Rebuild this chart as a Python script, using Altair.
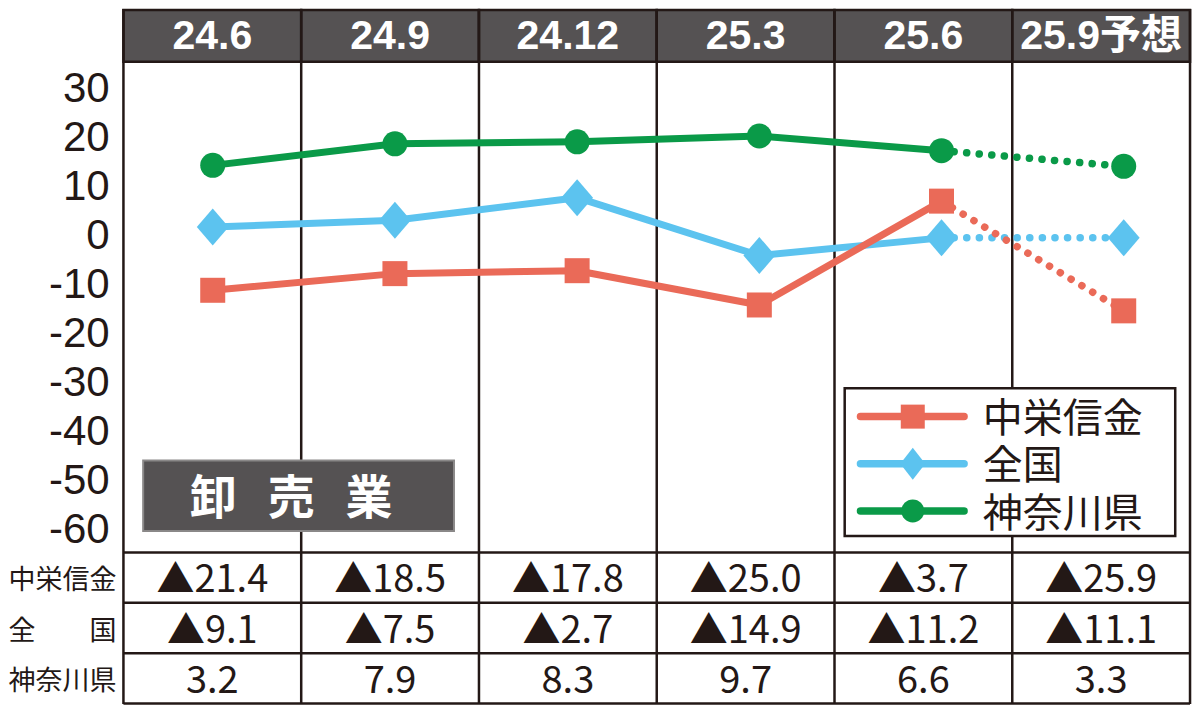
import altair as alt
import pandas as pd

# ---------------- data ----------------
periods = ["24.6", "24.9", "24.12", "25.3", "25.6", "25.9予想"]
series_names = ["中栄信金", "全国", "神奈川県"]
row_labels = ["中栄信金", "全　　国", "神奈川県"]
series_colors = ["#EA6A58", "#5CC3EF", "#0A9A48"]

# plotted positions
plot_shinkin = [-11.5, -8.1, -7.5, -14.5, 6.7, -15.7]
plot_zenkoku = [1.4, 2.8, 7.4, -4.4, -0.8, -0.8]
plot_kanagawa = [14.0, 18.4, 18.8, 20.0, 17.0, 13.8]

# values printed in the table
tbl_shinkin = [-21.4, -18.5, -17.8, -25.0, -3.7, -25.9]
tbl_zenkoku = [-9.1, -7.5, -2.7, -14.9, -11.2, -11.1]
tbl_kanagawa = [3.2, 7.9, 8.3, 9.7, 6.6, 3.3]

y_ticks = [30, 20, 10, 0, -10, -20, -30, -40, -50, -60]
panel_chars = ["卸", "売", "業"]

# ---------------- layout ----------------
W, H = 1184, 697
KX, KY = W / 1200.0, H / 713.0


def px(x):
    return round(x * KX, 2)


def py(y):
    return round(y * KY, 2)


FONT = "Noto Sans CJK JP"
FONT_MIX = "'Liberation Sans', 'Noto Sans CJK JP'"
HEADER_FILL = "#555253"
INK = "#231816"
LW = 2.5

y_scale = alt.Scale(domain=[-60, 30], range=[py(531.8), py(80.8)])
x_pts = alt.Scale(domain=[0, 5], range=[px(207.5), px(1130.8)])
x_tab = alt.Scale(domain=[0, 6], range=[px(117), px(1198)])
y_tab = alt.Scale(domain=[0, 3], range=[py(557), py(711.5)])
y_leg = alt.Scale(domain=[0, 2], range=[py(418), py(514.5)])
x_panel = alt.Scale(domain=[0, 2], range=[px(208), px(366)])

shapes = ["square", "M-0.86,0L0,-1L0.86,0L0,1Z", "circle"]
sizes = [625, 1369, 625]
leg_shapes = ["square", "M-0.78,0L0,-1L0.78,0L0,1Z", "circle"]
leg_sizes = [576, 1024, 529]


def fmt(v):
    return ("▲" + f"{abs(v):.1f}") if v < 0 else f"{v:.1f}"


layers = []

# header cells
cols_df = pd.DataFrame({
    "col": list(range(6)),
    "col_end": list(range(1, 7)),
    "mid": [i + 0.5 for i in range(6)],
    "period": periods,
})
layers.append(
    alt.Chart(cols_df).mark_rect(fill=HEADER_FILL, stroke=INK, strokeWidth=LW).encode(
        x=alt.X("col:Q", scale=x_tab, axis=None),
        x2=alt.X2("col_end"),
        y=alt.value(py(2)),
        y2=alt.value(py(55)),
    )
)
layers.append(
    alt.Chart(cols_df).mark_text(font=FONT_MIX, fontSize=41, fontWeight="bold", color="white",
                                 align="center", baseline="alphabetic").encode(
        x=alt.X("mid:Q", scale=x_tab, axis=None),
        y=alt.value(py(42)),
        text="period:N",
    )
)

# vertical grid lines
edges_df = pd.DataFrame({"edge": list(range(7))})
layers.append(
    alt.Chart(edges_df).mark_rule(color=INK, strokeWidth=LW).encode(
        x=alt.X("edge:Q", scale=x_tab, axis=None),
        y=alt.value(py(1)),
        y2=alt.value(py(712)),
    )
)

# horizontal table lines
rows_df = pd.DataFrame({"edge": list(range(len(series_names) + 1))})
layers.append(
    alt.Chart(rows_df).mark_rule(color=INK, strokeWidth=LW).encode(
        y=alt.Y("edge:Q", scale=y_tab, axis=None),
        x=alt.value(px(117)),
        x2=alt.value(px(1198)),
    )
)

# y tick labels
ticks_df = pd.DataFrame({"tick": y_ticks, "label": [str(t) for t in y_ticks]})
layers.append(
    alt.Chart(ticks_df).mark_text(font="Liberation Sans", fontSize=42, align="right",
                                  baseline="alphabetic", dy=py(15.5), color=INK).encode(
        y=alt.Y("tick:Q", scale=y_scale, axis=None),
        x=alt.value(px(103)),
        text="label:N",
    )
)

# table values
tab_records = []
for r, vals in enumerate([tbl_shinkin, tbl_zenkoku, tbl_kanagawa]):
    for c, v in enumerate(vals):
        tab_records.append({"mid": c + 0.5, "rmid": r + 0.5, "text": fmt(v)})
layers.append(
    alt.Chart(pd.DataFrame(tab_records)).mark_text(font=FONT, fontSize=38, align="center",
                                                   baseline="alphabetic", dy=py(15), color=INK).encode(
        x=alt.X("mid:Q", scale=x_tab, axis=None),
        y=alt.Y("rmid:Q", scale=y_tab, axis=None),
        text="text:N",
    )
)

# row labels
rl_df = pd.DataFrame({"rmid": [i + 0.5 for i in range(len(row_labels))], "label": row_labels})
layers.append(
    alt.Chart(rl_df).mark_text(font=FONT_MIX, fontSize=27, align="right", baseline="alphabetic",
                               dy=py(12), color=INK).encode(
        y=alt.Y("rmid:Q", scale=y_tab, axis=None),
        x=alt.value(px(110)),
        text="label:N",
    )
)

# panel label box
layers.append(
    alt.Chart(alt.Data(values=[{"k": 0}])).mark_rect(fill=HEADER_FILL, stroke="#8a8888", strokeWidth=2).encode(
        x=alt.value(px(137)), x2=alt.value(px(452)),
        y=alt.value(py(463)), y2=alt.value(py(535)),
    )
)
panel_df = pd.DataFrame({"i": list(range(len(panel_chars))), "ch": panel_chars})
layers.append(
    alt.Chart(panel_df).mark_text(font=FONT_MIX, fontSize=47, fontWeight="bold", color="white",
                                  align="center", baseline="alphabetic").encode(
        x=alt.X("i:Q", scale=x_panel, axis=None),
        y=alt.value(py(518)),
        text="ch:N",
    )
)

# series (draw green, blue, red so that red is on top)
plot_values = [plot_shinkin, plot_zenkoku, plot_kanagawa]
for i in [2, 1, 0]:
    df = pd.DataFrame({"t": list(range(6)), "v": plot_values[i], "period": periods})
    col = series_colors[i]
    enc = dict(
        x=alt.X("t:Q", scale=x_pts, axis=None),
        y=alt.Y("v:Q", scale=y_scale, axis=None),
    )
    layers.append(
        alt.Chart(df).transform_filter(alt.datum.t >= 4).mark_line(
            color=col, strokeWidth=7.5, strokeCap="round", strokeDash=[0.1, 12.5]).encode(**enc)
    )
    layers.append(
        alt.Chart(df).transform_filter(alt.datum.t <= 4).mark_line(
            color=col, strokeWidth=7, strokeJoin="round").encode(**enc)
    )
    layers.append(
        alt.Chart(df).mark_point(filled=True, opacity=1, color=col, shape=shapes[i],
                                 size=sizes[i], strokeWidth=0).encode(**enc)
    )

# legend box
layers.append(
    alt.Chart(alt.Data(values=[{"k": 0}])).mark_rect(fill="white", stroke=INK, strokeWidth=LW).encode(
        x=alt.value(px(848)), x2=alt.value(px(1183)),
        y=alt.value(py(389)), y2=alt.value(py(540)),
    )
)
for i, name in enumerate(series_names):
    ldf = pd.DataFrame({"idx": [i], "name": [name]})
    yenc = alt.Y("idx:Q", scale=y_leg, axis=None)
    layers.append(
        alt.Chart(ldf).mark_rule(color=series_colors[i], strokeWidth=7.5, strokeCap="round").encode(
            y=yenc, x=alt.value(px(864)), x2=alt.value(px(969)))
    )
    layers.append(
        alt.Chart(ldf).mark_point(filled=True, opacity=1, color=series_colors[i], shape=leg_shapes[i],
                                  size=leg_sizes[i], strokeWidth=0).encode(
            y=yenc, x=alt.value(px(917)))
    )
    layers.append(
        alt.Chart(ldf).mark_text(font=FONT_MIX, fontSize=40, align="left", baseline="alphabetic",
                                 dy=py(16), color=INK).encode(
            y=yenc, x=alt.value(px(988)), text="name:N")
    )

chart = alt.layer(*layers).resolve_scale(x="independent", y="independent").properties(
    width=W, height=H, autosize=alt.AutoSizeParams(type="none"), padding=0, background="white"
).configure_view(stroke=None)

chart.save("out.html", embed_options={"renderer": "svg", "actions": False})
